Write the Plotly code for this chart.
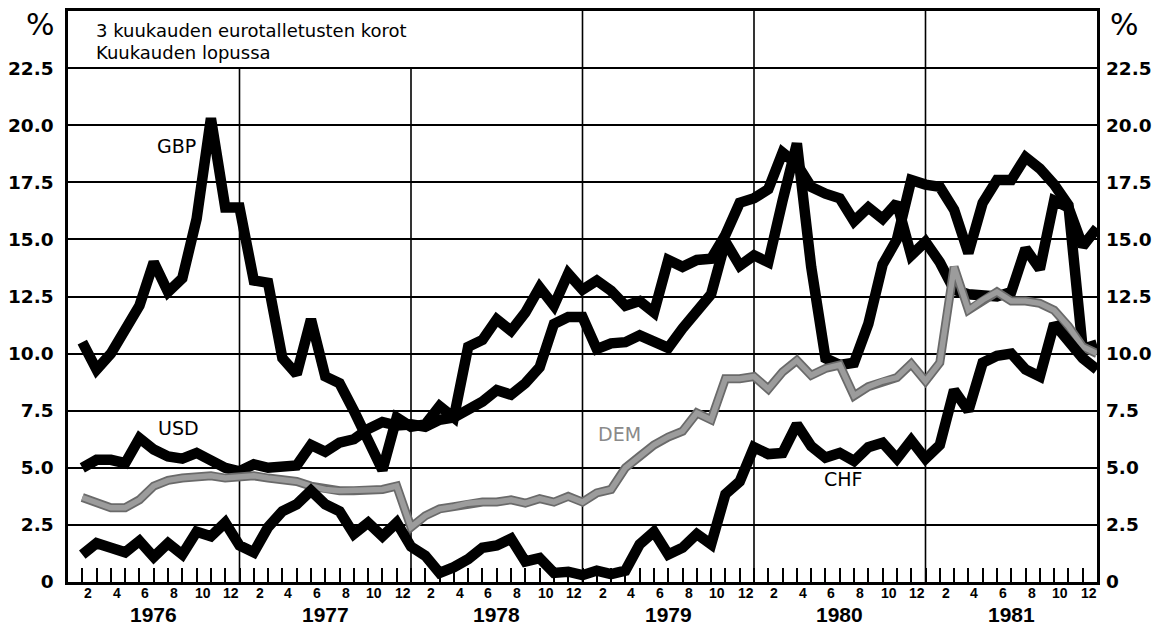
import plotly.graph_objects as go

# 3-month eurodeposit rates, end of month, Jan 1976 .. Dec 1981
years = [1976, 1977, 1978, 1979, 1980, 1981]
month_labels = ["2", "4", "6", "8", "10", "12"]
y_ticks = [0, 2.5, 5.0, 7.5, 10.0, 12.5, 15.0, 17.5, 20.0, 22.5]
y_ticktext = ["0", "2.5", "5.0", "7.5", "10.0", "12.5", "15.0", "17.5", "20.0", "22.5"]

gbp = [10.5, 9.3, 10.0, 11.0, 12.1, 14.0, 12.7, 13.3, 15.9, 20.3, 16.4, 16.4,
       13.2, 13.1, 9.8, 9.1, 11.5, 9.0, 8.7, 7.5, 6.2, 4.9, 7.2, 6.8,
       6.9, 7.7, 7.2, 10.3, 10.6, 11.5, 11.0, 11.8, 12.9, 12.1, 13.5, 12.8,
       13.2, 12.75, 12.1, 12.3, 11.8, 14.1, 13.8, 14.1, 14.15, 15.2, 16.6, 16.8,
       17.2, 18.8, 18.3, 17.3, 17.0, 16.8, 15.8, 16.4, 15.9, 16.6, 14.3, 14.9,
       14.0, 12.8, 12.6, 12.6, 12.5, 12.7, 14.6, 13.7, 16.7, 16.4, 14.7, 15.5]

usd = [5.0, 5.35, 5.35, 5.2, 6.3, 5.8, 5.5, 5.4, 5.65, 5.3, 5.0, 4.85,
       5.15, 5.0, 5.1, 5.1, 6.0, 5.7, 6.1, 6.25, 6.7, 7.0, 6.85, 6.9,
       6.8, 7.1, 7.2, 7.5, 7.9, 8.4, 8.2, 8.7, 9.4, 11.3, 11.6, 11.6,
       10.2, 10.45, 10.5, 10.8, 10.5, 10.25, 11.1, 11.85, 12.6, 14.9, 13.85, 14.3,
       14.0, 16.7, 19.2, 13.8, 9.8, 9.5, 9.6, 11.3, 13.9, 15.0, 17.6, 17.4,
       17.3, 16.3, 14.4, 16.6, 17.6, 17.6, 18.6, 18.1, 17.4, 16.5, 10.2, 10.4]

dem = [3.7, 3.5, 3.25, 3.25, 3.6, 4.2, 4.45, 4.55, 4.6, 4.65, 4.55, 4.6,
       4.65, 4.55, 4.5, 4.4, 4.2, 4.05, 4.0, 4.0, 4.0, 4.05, 4.2, 2.4,
       2.9, 3.2, 3.3, 3.45, 3.5, 3.5, 3.6, 3.45, 3.65, 3.5, 3.75, 3.5,
       3.9, 4.05, 5.0, 5.5, 6.0, 6.35, 6.6, 7.4, 7.1, 8.9, 8.9, 9.0,
       8.45, 9.2, 9.7, 9.05, 9.35, 9.5, 8.15, 8.55, 8.8, 8.95, 9.55, 8.8,
       9.6, 13.8, 11.9, 12.35, 12.7, 12.3, 12.3, 12.2, 11.9, 11.2, 10.3, 10.0]

chf = [1.2, 1.7, 1.5, 1.3, 1.8, 1.1, 1.7, 1.2, 2.2, 2.0, 2.6, 1.6,
       1.3, 2.4, 3.1, 3.4, 4.0, 3.4, 3.1, 2.1, 2.6, 2.0, 2.6, 1.55,
       1.15, 0.4, 0.65, 1.0, 1.5, 1.6, 1.9, 0.9, 1.05, 0.4, 0.45, 0.3,
       0.5, 0.35, 0.5, 1.65, 2.2, 1.2, 1.5, 2.1, 1.65, 3.85, 4.4, 5.9,
       5.6, 5.65, 6.9, 5.95, 5.45, 5.65, 5.3, 5.9, 6.1, 5.4, 6.2, 5.4,
       6.0, 8.4, 7.5, 9.6, 9.9, 10.0, 9.3, 9.0, 11.3, 10.6, 9.8, 9.3]

months = list(range(1, len(gbp) + 1))
n_months = len(gbp)

fig = go.Figure()

black_w = 10.5
fig.add_trace(go.Scatter(x=months, y=gbp, mode='lines', name='GBP',
                         line=dict(color='black', width=black_w)))
fig.add_trace(go.Scatter(x=months, y=usd, mode='lines', name='USD',
                         line=dict(color='black', width=black_w)))
# DEM: grey band with darker edge
fig.add_trace(go.Scatter(x=months, y=dem, mode='lines', name='DEM',
                         line=dict(color='#6a6a6a', width=9)))
fig.add_trace(go.Scatter(x=months, y=dem, mode='lines', name='DEM',
                         line=dict(color='#9c9c9c', width=5.5)))
fig.add_trace(go.Scatter(x=months, y=chf, mode='lines', name='CHF',
                         line=dict(color='black', width=black_w)))
# dummy trace so the right-hand axis gets drawn
fig.add_trace(go.Scatter(x=[months[0]], y=[0], yaxis='y2', mode='none',
                         hoverinfo='skip', showlegend=False))

# year separators; the first two stop under the caption box
shapes = []
for k in range(1, len(years)):
    shapes.append(dict(type='line', xref='x', yref='y', x0=12 * k, x1=12 * k,
                       y0=0, y1=22.5 if k < 3 else 25,
                       line=dict(color='black', width=1.6), layer='below'))

annotations = []
month_font = dict(family='Liberation Sans Narrow, Liberation Sans', size=14,
                  color='black', weight='bold')
for k, yr in enumerate(years):
    annotations.append(dict(x=12 * k + 6, y=-0.057, xref='x', yref='paper',
                            text=str(yr), showarrow=False, yanchor='middle', borderpad=0,
                            font=dict(family='Liberation Sans', size=21,
                                      color='black', weight='bold')))
    for j, lab in enumerate(month_labels):
        annotations.append(dict(x=12 * k + 2 * (j + 1) - 0.58, y=-0.019,
                                xref='x', yref='paper', text=lab, showarrow=False,
                                yanchor='middle', borderpad=0, font=month_font))

lab_font = dict(family='DejaVu Sans', size=19, color='black')
annotations += [
    dict(x=7.6, y=19.1, xref='x', yref='y', text='GBP', showarrow=False, font=lab_font),
    dict(x=7.7, y=6.75, xref='x', yref='y', text='USD', showarrow=False, font=lab_font),
    dict(x=38.6, y=6.5, xref='x', yref='y', text='DEM', showarrow=False,
         font=dict(family='DejaVu Sans', size=19, color='#8a8a8a')),
    dict(x=54.2, y=4.5, xref='x', yref='y', text='CHF', showarrow=False, font=lab_font),
    dict(x=0.0253, y=0.9655, xref='paper', yref='paper', xanchor='left', yanchor='middle',
         text='3 kuukauden eurotalletusten korot', showarrow=False,
         font=dict(family='DejaVu Sans', size=18, color='black')),
    dict(x=0.0253, y=0.9265, xref='paper', yref='paper', xanchor='left', yanchor='middle',
         text='Kuukauden lopussa', showarrow=False,
         font=dict(family='DejaVu Sans', size=18, color='black')),
    dict(x=-0.0107, y=0.977, xref='paper', yref='paper', xanchor='right', yanchor='middle',
         text='%', showarrow=False, font=dict(family='DejaVu Sans', size=30, color='black')),
    dict(x=1.0107, y=0.977, xref='paper', yref='paper', xanchor='left', yanchor='middle',
         text='%', showarrow=False, font=dict(family='DejaVu Sans', size=30, color='black')),
]

ytick_font = dict(family='DejaVu Sans', size=18.5, color='black', weight='bold')

fig.update_layout(
    width=1165, height=629,
    margin=dict(l=68, r=68, t=11, b=47, autoexpand=False),
    paper_bgcolor='white', plot_bgcolor='white',
    showlegend=False,
    shapes=shapes,
    annotations=annotations,
    xaxis=dict(range=[0, n_months], tickmode='array', tickvals=list(range(1, n_months)),
               ticks='inside', ticklen=14, tickwidth=2, tickcolor='black',
               showticklabels=False, showgrid=False, zeroline=False, automargin=False,
               showline=True, linecolor='black', linewidth=2.5, mirror=True),
    yaxis=dict(range=[0, 25], tickmode='array', tickvals=y_ticks, ticktext=y_ticktext,
               ticks='', showgrid=True, gridcolor='black', gridwidth=1.6, zeroline=False,
               showline=True, linecolor='black', linewidth=2.5, mirror=True,
               automargin=False, tickfont=ytick_font, ticklabelstandoff=8),
    yaxis2=dict(range=[0, 25], overlaying='y', side='right', tickmode='array',
                tickvals=y_ticks, ticktext=y_ticktext, ticks='', showgrid=False,
                zeroline=False, showline=False, automargin=False,
                tickfont=ytick_font, ticklabelstandoff=8),
)

# the page's default body margin would push the figure 8px off the window
fig.write_html("out.html", config={'displayModeBar': False},
               post_script="document.body.style.margin='0';document.body.style.overflow='hidden';")
